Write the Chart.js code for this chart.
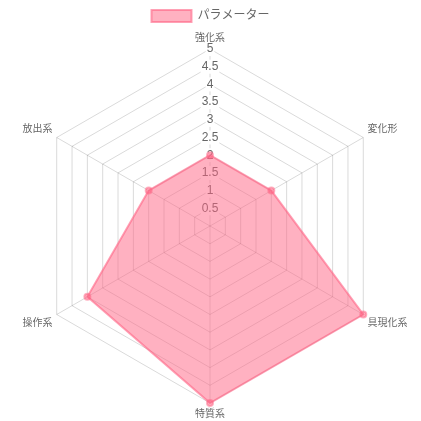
<!DOCTYPE html>
<html><head><meta charset="utf-8">
<script src="https://cdn.jsdelivr.net/npm/chart.js@4/dist/chart.umd.min.js"></script>
<style>html,body{margin:0;padding:0;background:#fff}#wrap{width:421px;height:421px}</style>
</head><body><div id="wrap"><canvas id="c" width="421" height="421"></canvas></div>
<script>
const categories = ['強化系','変化形','具現化系','特質系','操作系','放出系'];
const seriesName = 'パラメーター';
const values = [2, 2, 5, 5, 4, 2];
const tickLabels = ['0','0.5','1','1.5','2','2.5','3','3.5','4','4.5','5'];

Chart.defaults.font.family = "'Liberation Sans', 'Noto Sans CJK JP', sans-serif";
Chart.defaults.color = '#666';
new Chart(document.getElementById('c'), {
  type: 'radar',
  data: {
    labels: categories,
    datasets: [{
      label: seriesName,
      data: values,
      backgroundColor: 'rgba(255,99,132,0.5)',
      borderColor: 'rgba(255,99,132,0.6)',
      pointBackgroundColor: 'rgba(255,99,132,0.5)',
      pointBorderColor: 'rgba(255,99,132,0.5)',
      borderWidth: 2,
      pointRadius: 3
    }]
  },
  options: {
    responsive: false,
    animation: false,
    layout: { padding: { top: 0, bottom: -4, left: 0, right: 0 } },
    plugins: {
      legend: { labels: { boxWidth: 40, boxHeight: 12, font: { size: 12 }, color: '#666' } },
      tooltip: { enabled: false }
    },
    scales: {
      r: {
        min: 0, max: 5,
        ticks: { stepSize: 0.5, font: { size: 12 }, color: '#666', backdropColor: '#fff', backdropPadding: 1,
          callback: (v) => tickLabels[Math.round(v * 2)] },
        grid: { color: 'rgba(0,0,0,0.15)' },
        angleLines: { color: 'rgba(0,0,0,0.15)' },
        pointLabels: { font: { size: 10 }, color: '#666', padding: -2 }
      }
    }
  }
});
</script></body></html>
